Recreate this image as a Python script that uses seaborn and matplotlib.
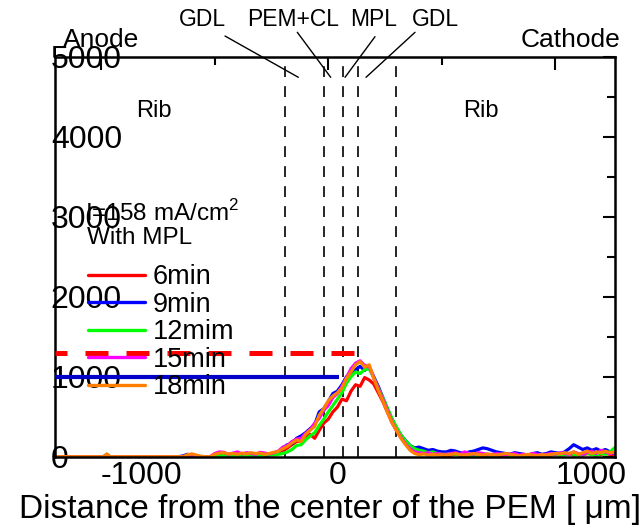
import numpy as np
import pandas as pd
import matplotlib
matplotlib.use("Agg")
import matplotlib.pyplot as plt
import seaborn as sns
from matplotlib.lines import Line2D
from matplotlib.ticker import MultipleLocator

# distance grid [um]: a few far-left samples, then every 20 um
distance_um = np.concatenate([[-1200, -990, -975, -960, -660], np.arange(-640, 1261, 20)])

time_labels = ["6min", "9min", "12mim", "15min", "18min"]
time_colors = ["#ff0000", "#0000ff", "#00ff00", "#ff00ff", "#ff8000"]

# water thickness, one list per time step
red_6min = [
    0, 0, 0, 0, 0,
    0, 10, 5, 0, 0, 0, 0, 20, 30, 10, 15, 25, 20, 10, 20, 30, 25, 35, 20, 30, 45, 60,
    70, 110, 150, 190, 200, 240, 280, 230, 330, 420, 470, 560, 620, 720, 700, 820, 900, 880,
    990, 960, 910, 800, 690, 560, 430, 330, 240, 160, 100, 60, 40, 50, 30, 40, 30, 20,
    10, 20, 30, 20, 10, 20, 30, 20, 10, 20, 30, 20, 10, 20, 10, 20, 30, 20, 10, 20,
    30, 20, 10, 20, 30, 20, 30, 40, 20, 30, 20, 40, 30, 20, 30, 40, 30, 20,
]
blue_9min = [
    0, 0, 25, 0, 0,
    10, 30, 15, 5, 0, 0, 0, 10, 20, 15, 10, 20, 10, 5, 15, 25, 20, 30, 15, 20, 40, 50,
    110, 150, 160, 230, 260, 300, 350, 400, 560, 600, 690, 790, 820, 900, 1000, 1040, 1090, 1130,
    1080, 1120, 1000, 880, 740, 600, 470, 360, 270, 200, 140, 110, 120, 100, 80, 90, 70, 60,
    60, 80, 70, 50, 40, 60, 70, 90, 110, 100, 80, 60, 50, 40, 30, 50, 40, 30, 20,
    40, 50, 30, 40, 60, 50, 40, 60, 100, 150, 120, 90, 110, 80, 100, 70, 90, 60, 40,
]
green_12min = [
    0, 0, 0, 0, 0,
    0, 5, 20, 10, 0, 0, 0, 5, 10, 15, 20, 10, 5, 10, 15, 20, 10, 15, 20, 25, 20, 30,
    40, 60, 90, 140, 150, 210, 260, 300, 390, 470, 560, 640, 720, 800, 920, 1000, 1060, 1040,
    1090, 1100, 990, 860, 740, 610, 480, 370, 270, 200, 140, 100, 80, 70, 50, 60, 40, 30,
    30, 40, 30, 20, 30, 20, 10, 20, 30, 20, 10, 20, 30, 20, 10, 20, 15, 10, 20,
    30, 20, 10, 20, 30, 20, 30, 20, 40, 30, 20, 30, 40, 30, 20, 40, 30, 60, 110,
]
magenta_15min = [
    0, 0, 0, 0, 0,
    0, 15, 10, 5, 0, 0, 0, 40, 60, 55, 30, 45, 60, 35, 50, 40, 30, 55, 45, 35, 50, 70,
    120, 140, 190, 220, 230, 290, 340, 420, 480, 580, 640, 740, 790, 880, 990, 1100, 1170, 1200,
    1140, 1130, 990, 850, 720, 580, 440, 330, 240, 160, 100, 60, 50, 40, 50, 30, 40, 30,
    30, 40, 50, 30, 60, 40, 30, 50, 40, 30, 20, 40, 30, 20, 30, 40, 20, 30, 20,
    40, 30, 20, 30, 40, 30, 50, 40, 30, 60, 40, 30, 50, 70, 40, 80, 60, 40, 50,
]
orange_18min = [
    0, 0, 35, 0, 0,
    0, 25, 35, 20, 5, 0, 0, 30, 45, 50, 35, 40, 30, 45, 35, 50, 40, 45, 30, 40, 55, 65,
    100, 130, 170, 210, 190, 280, 330, 380, 520, 600, 700, 760, 800, 860, 980, 1060, 1150, 1190,
    1120, 1150, 980, 830, 700, 560, 430, 330, 230, 150, 80, 40, 25, 35, 20, 30, 20, 25,
    20, 30, 40, 25, 20, 30, 40, 30, 20, 35, 25, 20, 30, 40, 30, 20, 10, 20, 30,
    20, 15, 25, 20, 30, 40, 35, 50, 40, 60, 30, 50, 70, 40, 60, 50, 70, 50, 60,
]
series_values = [red_6min, blue_9min, green_12min, magenta_15min, orange_18min]

# layer boundaries [um] and horizontal reference levels
layer_bounds_um = [-190, -20, 65, 130, 300]
ref_levels = [1300, 1000]
ref_ends_um = [140, 45]

sns.set_theme(style="white")
plt.rcParams["font.family"] = ["Liberation Sans", "DejaVu Sans"]
plt.rcParams["mathtext.fontset"] = "custom"
plt.rcParams["mathtext.rm"] = "Liberation Sans"
plt.rcParams["axes.unicode_minus"] = False
plt.rcParams["text.color"] = "black"
plt.rcParams["axes.labelcolor"] = "black"

df = pd.DataFrame({
    "distance": np.tile(distance_um, len(time_labels)),
    "value": np.concatenate(series_values),
    "time": np.repeat(time_labels, len(distance_um)),
})

fig = plt.figure(figsize=(6.41, 5.29), dpi=100)
ax = fig.add_axes([55 / 641, 1 - 456.7 / 529, 560 / 641, 399.7 / 529])

x_min, x_max = -1203, 1262
for xb in layer_bounds_um:
    ax.axvline(xb, color="black", lw=1.2, ls=(0, (6.5, 5.5)), zorder=1)

sns.lineplot(data=df, x="distance", y="value", hue="time", hue_order=time_labels,
             palette=dict(zip(time_labels, time_colors)), linewidth=2.3, ax=ax,
             legend=False, estimator=None, sort=False)

ax.hlines(ref_levels[0], x_min, ref_ends_um[0], color="#ff0000", lw=3.6,
          linestyles=[(2.2, (4.6, 3.6))], zorder=3)
ax.hlines(ref_levels[1], x_min, ref_ends_um[1], color="#0000c8", lw=3.0, zorder=3)

ax.set_xlim(x_min, x_max)
ax.set_ylim(0, 5000)
ax.xaxis.set_major_locator(MultipleLocator(1000))
ax.xaxis.set_minor_locator(MultipleLocator(500))
ax.yaxis.set_major_locator(MultipleLocator(1000))
ax.yaxis.set_minor_locator(MultipleLocator(500))
ax.tick_params(which="both", direction="in", top=True, right=True, width=1.5, color="black")
ax.tick_params(which="major", length=9)
ax.tick_params(which="minor", length=6)
ax.tick_params(axis="both", labelsize=23, labelcolor="black")
ax.tick_params(axis="y", pad=3)
ax.tick_params(axis="x", pad=3)
for lab in ax.get_yticklabels():
    lab.set_horizontalalignment("left")
for lab in ax.get_xticklabels():
    lab.set_horizontalalignment("left")
for sp in ax.spines.values():
    sp.set_linewidth(1.8)
    sp.set_color("black")
ax.set_ylabel("")
ax.set_xlabel("Distance from the center of the PEM [ \u03bcm]", fontsize=24, labelpad=2, color="black")
ax.xaxis.label.set_x(0.491)

# region / layer annotations (axes fraction)
ax.text(0.083, 1.042, "Anode", transform=ax.transAxes, fontsize=19, ha="center", va="center")
ax.text(0.92, 1.042, "Cathode", transform=ax.transAxes, fontsize=19, ha="center", va="center")
ax.text(0.177, 0.865, "Rib", transform=ax.transAxes, fontsize=17, ha="center", va="center")
ax.text(0.761, 0.865, "Rib", transform=ax.transAxes, fontsize=17, ha="center", va="center")

layer_names = ["GDL", "PEM+CL", "MPL", "GDL"]
layer_text_x = [0.264, 0.425, 0.569, 0.680]
leader_start = [(0.3036, 1.0525), (0.4327, 1.0618), (0.5714, 1.0508), (0.6429, 1.0618)]
leader_end = [(0.4345, 0.9492), (0.4923, 0.9492), (0.5179, 0.9492), (0.5554, 0.9492)]
for name, tx, (x0, y0), (x1, y1) in zip(layer_names, layer_text_x, leader_start, leader_end):
    ax.text(tx, 1.0926, name, transform=ax.transAxes, fontsize=16.5, ha="center", va="center")
    ax.plot([x0, x1], [y0, y1], transform=ax.transAxes, color="black", lw=1.0, clip_on=False)

ax.text(0.054, 0.61, "I=158 mA/cm$^2$", transform=ax.transAxes, fontsize=17.5, ha="left", va="center")
ax.text(0.057, 0.548, "With MPL", transform=ax.transAxes, fontsize=17.5, ha="left", va="center")

legend_handles = [Line2D([], [], color=c, lw=2.4, label=t) for t, c in zip(time_labels, time_colors)]
fig.legend(handles=legend_handles, loc="upper left", bbox_to_anchor=(88 / 641, 1 - 264 / 529),
           frameon=False, fontsize=19.5, handlelength=2.1, handletextpad=0.3,
           labelspacing=0.06, borderpad=0, borderaxespad=0)

fig.savefig("out.png", dpi=100)
